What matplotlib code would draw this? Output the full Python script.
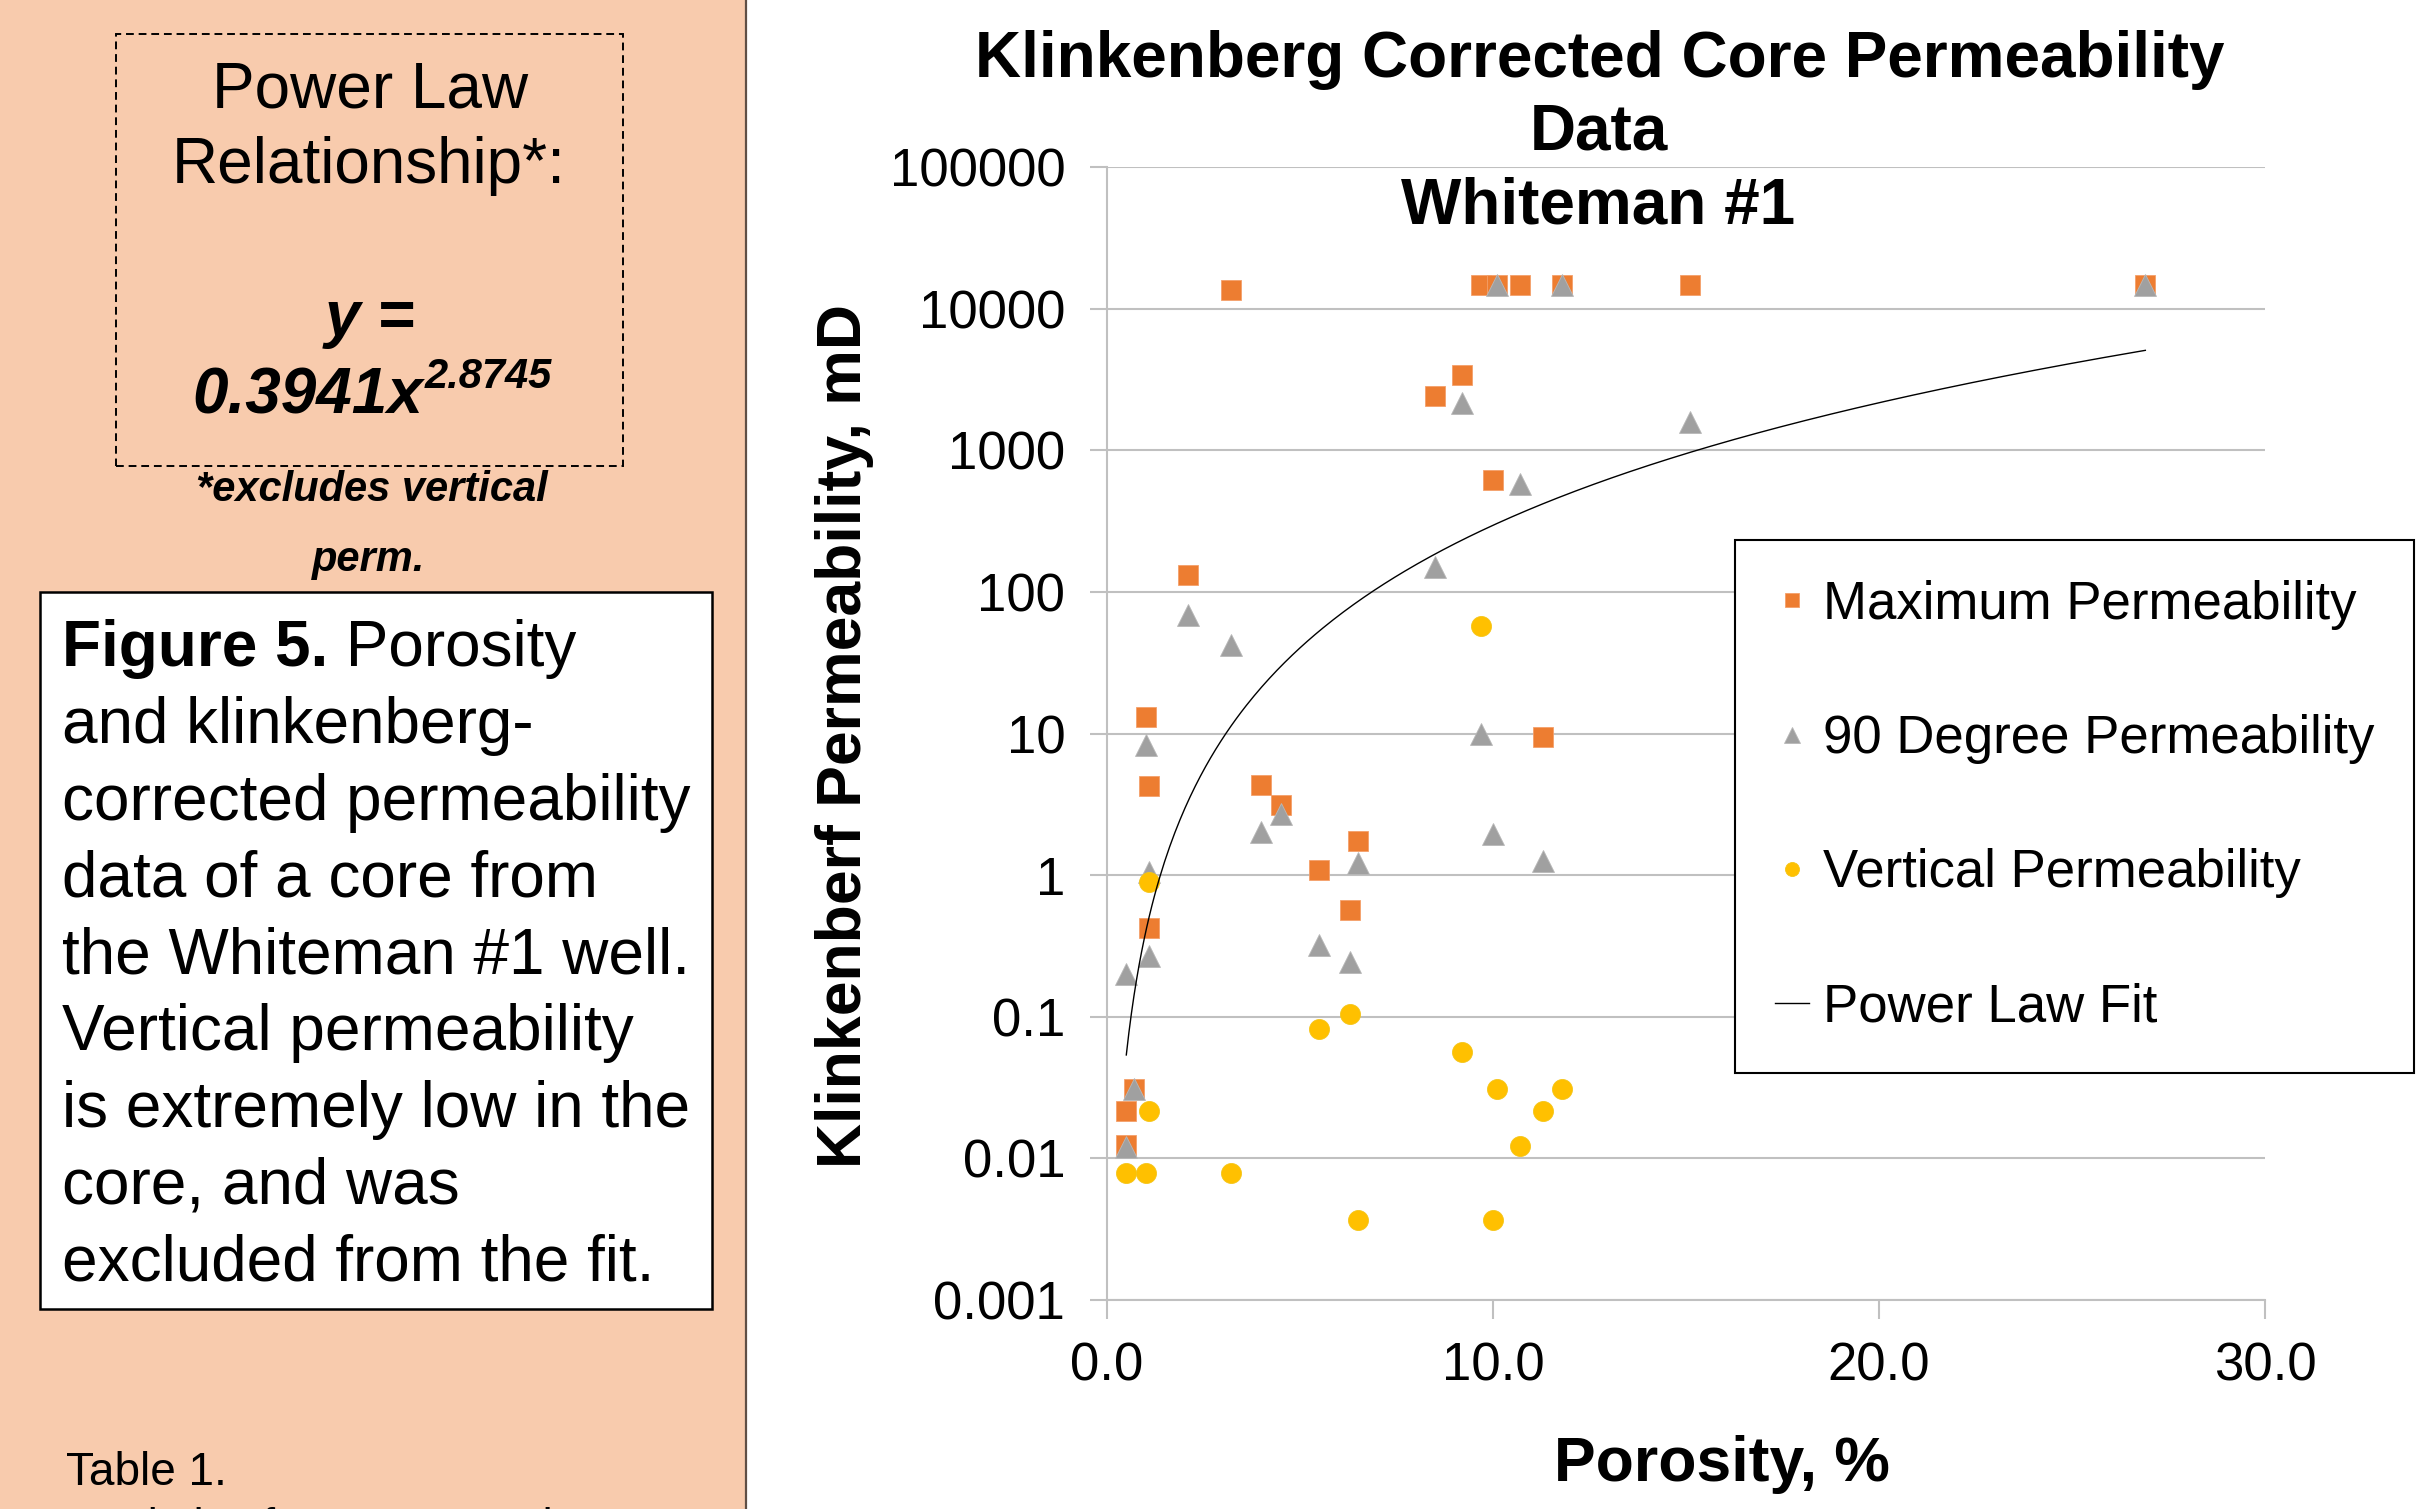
import numpy as np
import matplotlib
matplotlib.use("Agg")
import matplotlib.pyplot as plt
from matplotlib.patches import Rectangle
from matplotlib.lines import Line2D

plt.rcParams['font.family'] = ['Liberation Sans', 'DejaVu Sans']

# porosity (%) and klinkenberg permeability (mD)
max_x = [3.2, 9.7, 10.1, 10.7, 11.8, 15.1, 26.9, 9.2, 8.5, 10.0, 2.1, 1.0,
         11.3, 1.1, 4.0, 4.5, 6.5, 5.5, 6.3, 1.1, 0.7, 0.5, 0.5]
max_y = [13500, 14600, 14600, 14600, 14600, 14600, 14600, 3400, 2400, 615,
         131, 13, 9.4, 4.25, 4.3, 3.15, 1.73, 1.08, 0.57, 0.42, 0.031,
         0.0215, 0.0125]

deg90_x = [10.1, 11.8, 26.9, 9.2, 15.1, 10.7, 8.5, 2.1, 3.2, 9.7, 1.0, 4.0,
           4.5, 10.0, 11.3, 6.5, 1.1, 5.5, 6.3, 1.1, 0.5, 0.7, 0.5]
deg90_y = [14600, 14600, 14600, 2160, 1590, 575, 149, 69, 42, 10, 8.3, 2.0,
           2.7, 1.94, 1.25, 1.22, 1.05, 0.32, 0.245, 0.27, 0.2, 0.031, 0.012]

vert_x = [9.7, 1.1, 5.5, 6.3, 9.2, 10.1, 11.8, 11.3, 10.7, 1.1, 0.5, 1.0,
          3.2, 6.5, 10.0]
vert_y = [57, 0.89, 0.082, 0.104, 0.056, 0.031, 0.031, 0.0215, 0.0123,
          0.0215, 0.0079, 0.0079, 0.0079, 0.00367, 0.00367]

# power law fit y = a * x^b (vertical perm excluded)
fit_a = 0.3941
fit_b = 2.8745
fit_range = (0.5, 26.9)

x_ticks = [0, 10, 20, 30]
x_tick_labels = ["0.0", "10.0", "20.0", "30.0"]
y_ticks = [0.001, 0.01, 0.1, 1, 10, 100, 1000, 10000, 100000]
y_tick_labels = ["0.001", "0.01", "0.1", "1", "10", "100", "1000", "10000", "100000"]

W, H = 2418, 1509


def fx(px):
    return px / W


def fy(py):
    return 1 - py / H


fig = plt.figure(figsize=(W / 100, H / 100), dpi=100)
fig.patch.set_facecolor("white")

# left side panel
fig.patches.append(Rectangle((0, 0), fx(746), 1, transform=fig.transFigure,
                             facecolor="#F8CBAD", edgecolor="none", zorder=0))
fig.add_artist(Line2D([fx(746), fx(746)], [0, 1], transform=fig.transFigure,
                      color="#5f4f45", lw=1.6))

fig.patches.append(Rectangle((fx(116), fy(466)), fx(623) - fx(116), fy(34) - fy(466),
                             transform=fig.transFigure, facecolor="none",
                             edgecolor="black", lw=1.4, linestyle=(0, (4, 2.5))))

fig.text(fx(370), fy(108), "Power Law", ha="center", va="baseline", fontsize=46)
fig.text(fx(369), fy(183), "Relationship*:", ha="center", va="baseline", fontsize=46)
fig.text(fx(370), fy(336), "y =", ha="center", va="baseline", fontsize=46,
         fontweight="bold", style="italic")

renderer = fig.canvas.get_renderer()
eq_main = fig.text(0, fy(413), "0.3941x", ha="left", va="baseline", fontsize=46,
                   fontweight="bold", style="italic")
eq_sup = fig.text(0, fy(388), "2.8745", ha="left", va="baseline", fontsize=30,
                  fontweight="bold", style="italic")
w1 = eq_main.get_window_extent(renderer).width
w2 = eq_sup.get_window_extent(renderer).width
x0 = 371 - (w1 + w2) / 2
eq_main.set_x(fx(x0))
eq_sup.set_x(fx(x0 + w1 + 2))

fig.text(fx(372), fy(501), "*excludes vertical", ha="center", va="baseline",
         fontsize=30, fontweight="bold", style="italic")
fig.text(fx(369), fy(571), "perm.", ha="center", va="baseline",
         fontsize=30, fontweight="bold", style="italic")

# caption box
fig.patches.append(Rectangle((fx(40), fy(1309)), fx(712) - fx(40), fy(592) - fy(1309),
                             transform=fig.transFigure, facecolor="white",
                             edgecolor="black", lw=1.8, zorder=1))
cap_lines = ["and klinkenberg-", "corrected permeability", "data of a core from",
             "the Whiteman #1 well.", "Vertical permeability",
             "is extremely low in the", "core, and was", "excluded from the fit."]
fig5 = fig.text(fx(62), fy(666), "Figure 5.", ha="left", va="baseline",
                fontsize=46, fontweight="bold", zorder=2)
wf = fig5.get_window_extent(renderer).width
fig.text(fx(62 + wf), fy(666), " Porosity", ha="left", va="baseline",
         fontsize=46, zorder=2)
for i, line in enumerate(cap_lines):
    fig.text(fx(62), fy(666 + 76.8 * (i + 1)), line, ha="left", va="baseline",
             fontsize=46, zorder=2)

# the next slide text runs off the bottom edge, as in the original
fig.text(fx(66), fy(1485), "Table 1.", ha="left", va="baseline", fontsize=33)
fig.text(fx(66), fy(1541), "Statistics for core samples", ha="left",
         va="baseline", fontsize=33)

# chart
ax = fig.add_axes([fx(1107), fy(1300), fx(2265) - fx(1107), fy(167) - fy(1300)])
ax.set_facecolor("white")

ax.plot(max_x, max_y, linestyle="none", marker="s", ms=14.4,
        color="#ED7D31", mec="#F4A06A", mew=0.6, label="Maximum Permeability", zorder=3)
ax.plot(deg90_x, deg90_y, linestyle="none", marker="^", ms=16,
        color="#A0A0A0", mec="#B8B8B8", mew=0.6, label="90 Degree Permeability", zorder=4)
ax.plot(vert_x, vert_y, linestyle="none", marker="o", ms=14.4,
        color="#FFC000", mec="#F5C518", mew=0.6, label="Vertical Permeability", zorder=5)

fit_x = np.linspace(fit_range[0], fit_range[1], 400)
ax.plot(fit_x, fit_a * fit_x ** fit_b, color="black", lw=1.0,
        label="Power Law Fit", zorder=6)

ax.set_yscale("log")
ax.set_xlim(0, 30)
ax.set_ylim(0.001, 100000)
ax.set_xticks(x_ticks)
ax.set_xticklabels(x_tick_labels)
ax.set_yticks(y_ticks)
ax.set_yticklabels(y_tick_labels)
ax.minorticks_off()

ax.yaxis.grid(True, color="#C0C0C0", lw=1.5)
ax.xaxis.grid(False)
ax.set_axisbelow(True)
for side in ["top", "right"]:
    ax.spines[side].set_visible(False)
for side in ["left", "bottom"]:
    ax.spines[side].set_color("#C0C0C0")
    ax.spines[side].set_linewidth(1.5)

ax.tick_params(axis="y", direction="out", length=12, width=1.5, color="#C0C0C0",
               labelsize=38, pad=18)
ax.tick_params(axis="x", direction="out", length=14, width=1.5, color="#C0C0C0",
               labelsize=38, pad=16)

fig.text(fx(1600), fy(77), "Klinkenberg Corrected Core Permeability",
         ha="center", va="baseline", fontsize=46, fontweight="bold")
fig.text(fx(1599), fy(150), "Data", ha="center", va="baseline",
         fontsize=46, fontweight="bold")
fig.text(fx(1598), fy(224), "Whiteman #1", ha="center", va="baseline",
         fontsize=46, fontweight="bold")

fig.text(fx(1722), fy(1481), "Porosity, %", ha="center", va="baseline",
         fontsize=45, fontweight="bold")
fig.text(fx(844), fy(736), "Klinkenberf Permeability, mD", ha="center",
         va="center", rotation=90, fontsize=45, fontweight="bold")

leg = ax.legend(loc="upper left", bbox_to_anchor=(fx(1735), fy(540)),
                bbox_transform=fig.transFigure, borderaxespad=0, fontsize=38,
                frameon=True, fancybox=False, framealpha=1, edgecolor="black",
                markerscale=0.7, handlelength=0.65, handletextpad=0.27,
                labelspacing=1.6, borderpad=0.75)
leg.get_frame().set_linewidth(1.5)

fig.savefig("out.png", dpi=100, facecolor="white")
